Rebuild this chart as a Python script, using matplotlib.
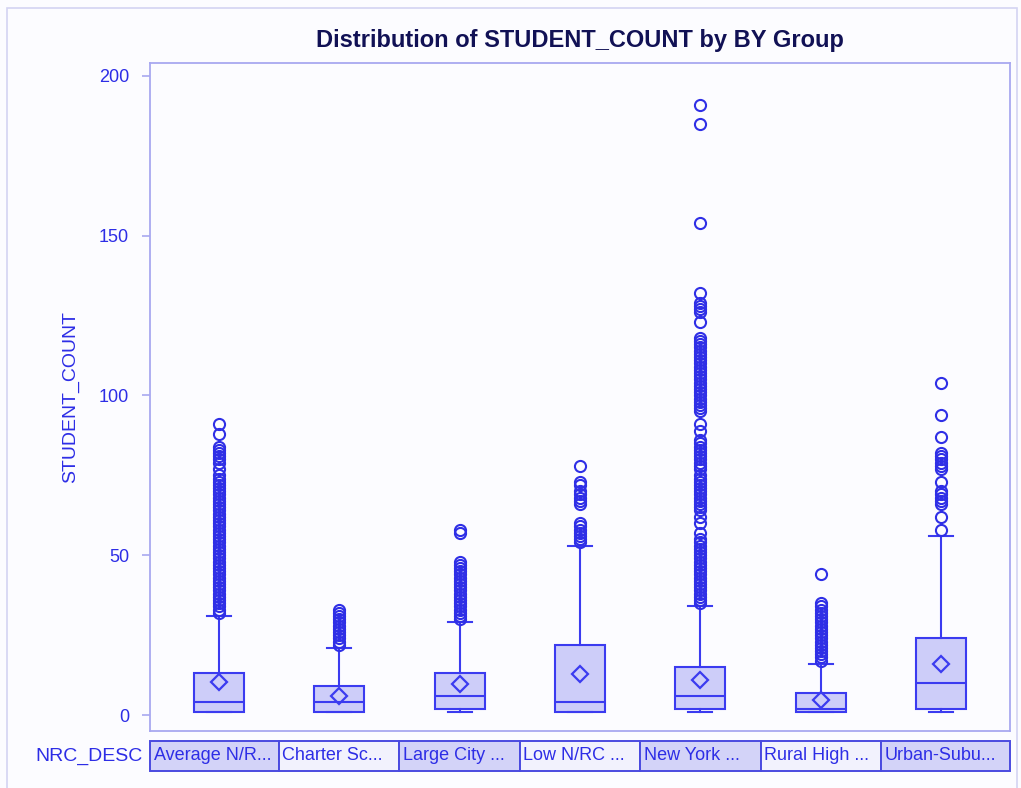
import matplotlib
matplotlib.use("Agg")
import matplotlib.pyplot as plt
from matplotlib.patches import Rectangle
from matplotlib.transforms import blended_transform_factory

plt.rcParams['font.family'] = ['Liberation Sans', 'DejaVu Sans']

# ---- data -------------------------------------------------------------
categories = ["Average N/R...", "Charter Sc...", "Large City ...", "Low N/RC ...",
              "New York ...", "Rural High ...", "Urban-Subu..."]
q1 = [1, 1, 2, 1, 2, 1, 2]
medians = [4, 4, 6, 4, 6, 2, 10]
q3 = [13, 9, 13, 22, 15, 7, 24]
whisker_low = [1, 1, 1, 1, 1, 1, 1]
whisker_high = [31, 21, 29, 53, 34, 16, 56]
means = [10.3, 6.0, 9.7, 12.8, 11.0, 4.7, 16.0]

outliers_average = [32, 33, 34, 35, 36, 37, 38, 39, 40, 41, 42, 43, 44, 45, 46, 47,
                    48, 49, 50, 51, 52, 53, 54, 55, 56, 57, 58, 59, 60, 61, 62, 63,
                    64, 65, 66, 67, 68, 69, 70, 71, 72, 73, 74, 75, 77, 79, 80, 81,
                    82, 83, 84, 88, 91]
outliers_charter = [22, 23, 24, 25, 26, 27, 28, 29, 30, 31, 32, 33]
outliers_large_city = [30, 31, 32, 33, 34, 35, 36, 37, 38, 39, 40, 41, 42, 43, 44,
                       45, 46, 47, 48, 57, 58]
outliers_low_nrc = [54, 55, 56, 57, 58, 59, 60, 66, 67, 68, 69, 70, 72, 73, 78]
outliers_new_york = [35, 36, 37, 38, 39, 40, 41, 42, 43, 44, 45, 46, 47, 48, 49, 50,
                     51, 52, 53, 54, 55, 57, 60, 62, 64, 65, 66, 67, 68, 69, 70, 71,
                     72, 73, 74, 75, 77, 78, 79, 80, 81, 82, 83, 84, 85, 86, 89, 91,
                     95, 96, 97, 98, 99, 100, 101, 102, 103, 104, 105, 106, 107, 108,
                     109, 110, 111, 112, 113, 114, 115, 116, 117, 118, 123, 126, 127,
                     128, 129, 132, 154, 185, 191]
outliers_rural = [17, 18, 19, 20, 21, 22, 23, 24, 25, 26, 27, 28, 29, 30, 31, 32,
                  33, 34, 35, 44]
outliers_urban = [58, 62, 66, 67, 68, 69, 70, 73, 77, 78, 79, 80, 81, 82, 87, 94, 104]

y_ticks = [0, 50, 100, 150, 200]

# ---- styling ----------------------------------------------------------
BG = "#FCFCFF"
LINE = "#3B3BF0"
FILL = "#CDCDF9"
FRAME = "#A8A8F0"
TEXT_BLUE = "#2D2DE6"
CELL_DARK = "#D3D3F8"
CELL_LIGHT = "#F2F2FD"
CELL_EDGE = "#4A4AE0"
FS = 13

fig = plt.figure(figsize=(10.21, 7.88), dpi=100, facecolor=BG)
W, H = 1021, 788
ax = fig.add_axes([150 / W, 1 - 731 / H, 860 / W, 668 / H], facecolor=BG)

all_outliers = [outliers_average, outliers_charter, outliers_large_city,
                outliers_low_nrc, outliers_new_york, outliers_rural, outliers_urban]
stats = []
for i, name in enumerate(categories):
    stats.append(dict(label=name, q1=q1[i], med=medians[i], q3=q3[i],
                      whislo=whisker_low[i], whishi=whisker_high[i],
                      mean=means[i], fliers=all_outliers[i]))

positions = list(range(len(categories)))
ax.bxp(stats, positions=positions, widths=0.415, capwidths=0.2,
       patch_artist=True, showmeans=True, showfliers=True,
       boxprops=dict(facecolor=FILL, edgecolor=LINE, linewidth=1.5),
       medianprops=dict(color=LINE, linewidth=1.5),
       whiskerprops=dict(color=LINE, linewidth=1.5),
       capprops=dict(color=LINE, linewidth=1.5),
       meanprops=dict(marker='D', markersize=8.5, markerfacecolor='none',
                      markeredgecolor=LINE, markeredgewidth=1.6),
       flierprops=dict(marker='o', markersize=8, markerfacecolor='none',
                       markeredgecolor="#2F2FE6", markeredgewidth=1.5))

ax.set_xlim(-0.57, 6.57)
ax.set_ylim(-5, 204)
ax.set_yticks(y_ticks)
ax.set_yticklabels([str(t) for t in y_ticks])
ax.set_xticks([])
ax.tick_params(axis='y', colors=FRAME, labelcolor=TEXT_BLUE, labelsize=FS,
               length=6, width=1.2, pad=9)
for s in ax.spines.values():
    s.set_color(FRAME)
    s.set_linewidth(1.3)
ax.set_ylabel("STUDENT_COUNT", color=TEXT_BLUE, fontsize=FS + 1, labelpad=14)

fig.text(580 / W, 1 - 40 / H, "Distribution of STUDENT_COUNT by BY Group",
         ha='center', va='center', fontsize=17, fontweight='bold', color="#111155")

# category strip beneath the plot
trans = blended_transform_factory(ax.transData, fig.transFigure)
cell_bottom = 1 - 771 / H
cell_h = 30 / H
xmin, xmax = ax.get_xlim()
for i, name in enumerate(categories):
    left = xmin if i == 0 else i - 0.5
    right = xmax if i == len(categories) - 1 else i + 0.5
    ax.add_patch(Rectangle((left, cell_bottom), right - left, cell_h,
                           transform=trans, clip_on=False,
                           facecolor=CELL_DARK if i % 2 == 0 else CELL_LIGHT,
                           edgecolor=CELL_EDGE, linewidth=1.4))
    ax.text(left + 0.03, cell_bottom + cell_h / 2, name, transform=trans,
            ha='left', va='center', fontsize=FS, color=TEXT_BLUE, clip_on=False)

fig.text(143 / W, 1 - 756 / H, "NRC_DESC", ha='right', va='center',
         fontsize=FS + 1, color=TEXT_BLUE)

# light outer border of the graph area
fig.add_artist(Rectangle((7 / W, -0.01), 1010 / W, 1 - 8 / H + 0.01,
                         transform=fig.transFigure, fill=False,
                         edgecolor="#D4D4F2", linewidth=1.2))

fig.savefig("out.png", dpi=100, facecolor=BG)
